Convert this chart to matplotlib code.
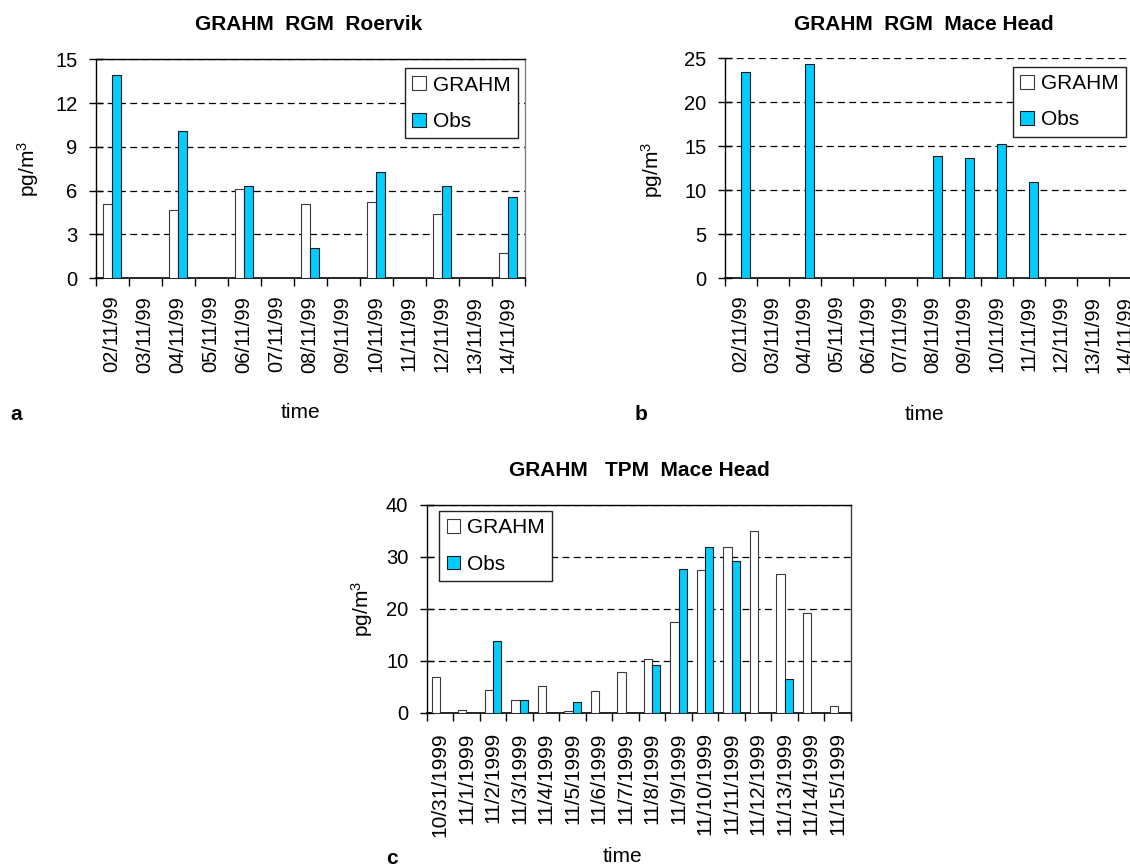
import matplotlib
matplotlib.use("Agg")
import matplotlib.pyplot as plt
import numpy as np

plt.rcParams['font.family'] = ['Liberation Sans', 'DejaVu Sans']
plt.rcParams['mathtext.fontset'] = 'custom'
plt.rcParams['mathtext.rm'] = 'Liberation Sans'
plt.rcParams['mathtext.it'] = 'Liberation Sans:italic'
plt.rcParams['mathtext.bf'] = 'Liberation Sans:bold'

# ---------------- data ----------------
dates_ab = ['02/11/99', '03/11/99', '04/11/99', '05/11/99', '06/11/99', '07/11/99',
            '08/11/99', '09/11/99', '10/11/99', '11/11/99', '12/11/99', '13/11/99',
            '14/11/99']
grahm_a = [5.1, 0, 4.7, 0, 6.1, 0, 5.1, 0, 5.2, 0, 4.4, 0, 1.7]
obs_a = [13.9, 0, 10.1, 0, 6.3, 0, 2.05, 0, 7.3, 0, 6.3, 0, 5.6]

grahm_b = [0, 0, 0, 0, 0, 0, 0.1, 0.1, 0.1, 0.1, 0, 0, 0]
obs_b = [23.4, 0, 24.4, 0, 0, 0, 13.9, 13.7, 15.3, 10.9, 0, 0, 0]

dates_c = ['10/31/1999', '11/1/1999', '11/2/1999', '11/3/1999', '11/4/1999',
           '11/5/1999', '11/6/1999', '11/7/1999', '11/8/1999', '11/9/1999',
           '11/10/1999', '11/11/1999', '11/12/1999', '11/13/1999', '11/14/1999',
           '11/15/1999']
grahm_c = [6.8, 0.6, 4.4, 2.4, 5.1, 0.3, 4.1, 7.8, 10.3, 17.4, 27.4, 31.8, 34.9,
           26.7, 19.1, 1.2]
obs_c = [0, 0, 13.7, 2.4, 0, 2.0, 0, 0, 9.2, 27.7, 31.8, 29.1, 0, 6.4, 0, 0]

titles = ['GRAHM  RGM  Roervik', 'GRAHM  RGM  Mace Head', 'GRAHM   TPM  Mace Head']
series_names = ['GRAHM', 'Obs']

# ---------------- layout ----------------
W, H = 1130, 867
fig = plt.figure(figsize=(W / 100, H / 100), dpi=100)


def rect(l, t, r, b):
    return [l / W, 1 - b / H, (r - l) / W, (b - t) / H]


def fpos(x, y):
    return (x / W, 1 - y / H)


CYAN = '#00CCFF'
DASH = (0, (5.5, 3.5))


def panel(ax, labels, g, o, ymax, step, w, xpad, xsize, right_spine_color):
    n = len(labels)
    x = np.arange(n)
    ax.bar(x - w / 2, g, w, color='white', edgecolor='#3a3a3a', linewidth=0.8,
           zorder=3, label=series_names[0])
    ax.bar(x + w / 2, o, w, color=CYAN, edgecolor='#1a1a1a', linewidth=0.8,
           zorder=3, label=series_names[1])
    ax.set_xlim(-0.5, n - 0.5)
    ax.set_ylim(0, ymax)
    yt = np.arange(0, ymax + step / 2, step)
    ax.set_yticks(yt)
    ax.set_yticklabels([f'{int(v)}' for v in yt])
    for v in yt[1:]:
        ax.axhline(v, color='black', lw=0.9, ls=DASH, zorder=1)
    ax.set_xticks(x)
    ax.set_xticklabels(labels, rotation=90)
    ax.set_xticks(np.arange(-0.5, n), minor=True)
    ax.tick_params(axis='x', which='major', length=0, pad=xpad, labelsize=xsize)
    ax.tick_params(axis='x', which='minor', length=5.5, width=1.0, direction='out',
                   color='black')
    ax.tick_params(axis='y', direction='inout', length=10.5, width=1.0, pad=8,
                   labelsize=14.5, color='black')
    ax.spines['left'].set_color('black')
    ax.spines['left'].set_linewidth(1.0)
    ax.spines['bottom'].set_color('black')
    ax.spines['bottom'].set_linewidth(1.2)
    ax.spines['top'].set_color('black')
    ax.spines['top'].set_linewidth(1.0)
    ax.spines['right'].set_color(right_spine_color)
    ax.spines['right'].set_linewidth(1.0)
    ax.set_facecolor('white')


def add_legend(ax, left, top):
    leg = ax.legend(loc='upper left', bbox_to_anchor=fpos(left, top),
                    bbox_transform=fig.transFigure, borderaxespad=0,
                    fontsize=15, handlelength=0.65, handleheight=0.65,
                    handletextpad=0.35, labelspacing=0.84, borderpad=0.35,
                    fancybox=False, framealpha=1, edgecolor='#222222')
    leg.get_frame().set_linewidth(1.0)
    return leg


# Panel a
ax_a = fig.add_axes(rect(95.7, 59.3, 524.7, 278.3))
panel(ax_a, dates_ab, grahm_a, obs_a, 15, 3, 0.27, 12.5, 14.5, '#808080')
add_legend(ax_a, 404.7, 68.3)

# Panel b (extends beyond right edge)
ax_b = fig.add_axes(rect(725, 58.3, 1141, 278.3))
panel(ax_b, dates_ab, grahm_b, obs_b, 25, 5, 0.27, 12.5, 14.5, '#808080')
ax_b.spines['top'].set_visible(False)
ax_b.spines['right'].set_visible(False)
add_legend(ax_b, 1013, 66.7)

# Panel c
ax_c = fig.add_axes(rect(426.7, 504.7, 851, 712.7))
panel(ax_c, dates_c, grahm_c, obs_c, 40, 10, 0.31, 14, 15, '#404040')
add_legend(ax_c, 439.3, 511)

# Titles
tk = dict(fontsize=15, fontweight='bold', ha='center', va='center')
fig.text(*fpos(309, 24.5), titles[0], **tk)
fig.text(*fpos(924, 24.5), titles[1], **tk)
fig.text(*fpos(639, 470), titles[2], **tk)

# Axis labels
ylab = r'pg/m$^{\mathrm{3}}$'
yk = dict(fontsize=15, rotation=90, ha='center', va='center')
fig.text(*fpos(28, 169), ylab, **yk)
fig.text(*fpos(652, 170), ylab, **yk)
fig.text(*fpos(362, 609), ylab, **yk)

tk2 = dict(fontsize=15, ha='center', va='center')
fig.text(*fpos(300, 412), 'time', **tk2)
fig.text(*fpos(924, 414), 'time', **tk2)
fig.text(*fpos(622, 857), 'time', **tk2)

lk = dict(fontsize=15, fontweight='bold', ha='center', va='center')
fig.text(*fpos(16, 414), 'a', **lk)
fig.text(*fpos(641, 414), 'b', **lk)
fig.text(*fpos(392, 858), 'c', **lk)

fig.savefig('out.png', dpi=100)
